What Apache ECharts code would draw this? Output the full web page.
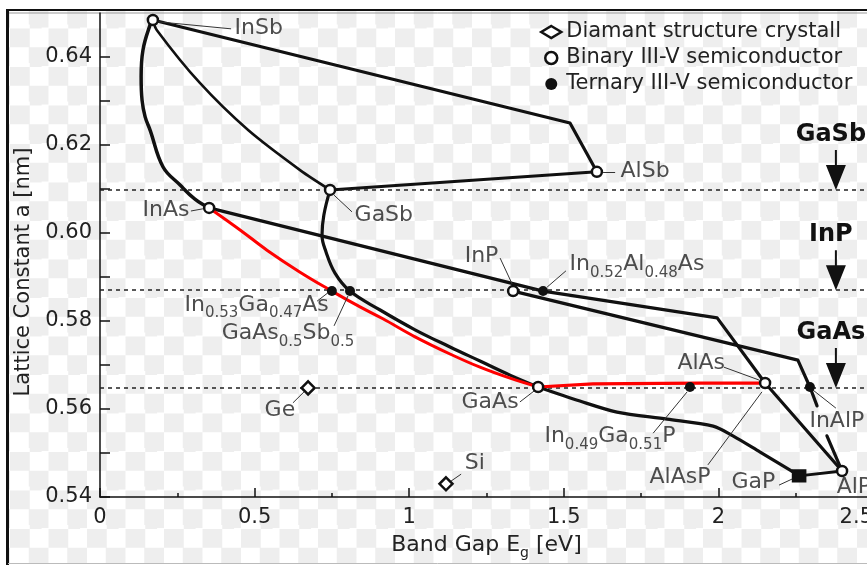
<!DOCTYPE html>
<html>
<head>
<meta charset="utf-8">
<script src="https://cdn.jsdelivr.net/npm/echarts@6/dist/echarts.min.js"></script>
<style>
html,body{margin:0;padding:0;background:#fff;}
#bg{position:absolute;left:8px;top:11px;width:859px;height:552px;
background-image:repeating-conic-gradient(#eeeeee 0 25%, #ffffff 0 50%);
background-size:38.5px 38.5px;background-position:2px -2.25px;}
#chart{position:absolute;left:0;top:0;width:867px;height:565px;}
</style>
</head>
<body>
<div id="bg"></div>
<div id="chart"></div>
<script>
// ---------- data (band gap Eg [eV], lattice constant a [nm]) ----------
const diamondNames = ['Ge', 'Si'];
const diamondEg = [0.673, 1.119];
const diamondA = [0.5648, 0.5430];

const binaryNames = ['InSb', 'AlSb', 'GaSb', 'InAs', 'InP', 'GaAs', 'AlAs', 'AlP', 'GaP'];
const binaryEg = [0.171, 1.607, 0.744, 0.353, 1.336, 1.417, 2.151, 2.400, 2.261];
const binaryA = [0.6484, 0.6139, 0.6098, 0.6057, 0.5868, 0.5650, 0.5659, 0.5459, 0.5448];

const ternaryNames = ['In0.53Ga0.47As', 'GaAs0.5Sb0.5', 'In0.52Al0.48As', 'In0.49Ga0.51P', 'InAlP'];
const ternaryEg = [0.750, 0.8085, 1.433, 1.908, 2.296];
const ternaryA = [0.5868, 0.5868, 0.5868, 0.5650, 0.5650];

// alloy curves
const curveInSbAlSb = [[0.171, 0.6484], [1.520, 0.6250], [1.607, 0.6139]];
const curveGaSbAlSb = [[0.744, 0.6098], [1.607, 0.6139]];
const curveInSbGaSb = [[0.171, 0.6484], [0.184, 0.6461], [0.323, 0.6341], [0.479, 0.6234], [0.647, 0.6143], [0.744, 0.6098]];
const curveInSbInAs = [[0.171, 0.6484], [0.162, 0.6473], [0.139, 0.6416], [0.133, 0.6355], [0.136, 0.6302], [0.146, 0.6264], [0.162, 0.6234], [0.204, 0.6150], [0.259, 0.6109], [0.307, 0.6077], [0.353, 0.6057]];
const curveGaSbGaAs = [[0.744, 0.6098], [0.724, 0.6041], [0.718, 0.5995], [0.731, 0.5957], [0.760, 0.5909], [0.8085, 0.5868], [0.906, 0.5825], [1.019, 0.5780], [1.132, 0.5741], [1.229, 0.5709], [1.326, 0.5677], [1.417, 0.5650]];
const curveInAsGaAs = [[0.353, 0.6057], [0.453, 0.6007], [0.540, 0.5961], [0.647, 0.5911], [0.750, 0.5868], [0.841, 0.5832], [0.915, 0.5805], [1.019, 0.5764], [1.132, 0.5725], [1.229, 0.5695], [1.326, 0.5670], [1.417, 0.5650]];
const curveGaAsAlAs = [[1.417, 0.5650], [1.594, 0.5657], [1.940, 0.5659], [2.151, 0.5659]];
const curveInAsAlAs = [[0.353, 0.6057], [1.433, 0.5868], [1.996, 0.5807], [2.151, 0.5659]];
const curveInPAlP = [[1.336, 0.5868], [2.257, 0.5711], [2.296, 0.5650], [2.319, 0.5607]];
const curveInPAlP2 = [[2.351, 0.5539], [2.400, 0.5459]];
const curveAlAsAlP = [[2.151, 0.5659], [2.400, 0.5459]];
const curveGaAsGaP = [[1.417, 0.5650], [1.552, 0.5618], [1.672, 0.5593], [1.834, 0.5577], [1.983, 0.5561], [2.047, 0.5539], [2.135, 0.5502], [2.232, 0.5461], [2.261, 0.5448]];
const curveGaPAlP = [[2.261, 0.5448], [2.400, 0.5459]];

// reference lattice constants (dashed lines)
const refNames = ['GaSb', 'InP', 'GaAs'];
const refA = [0.6098, 0.5870, 0.5648];
const refEg = 2.38;

// annotation texts ("_" toggles subscript) and anchors
const labelTexts = ['InSb', 'AlSb', 'InAs', 'GaSb', 'In_0.53_Ga_0.47_As', 'GaAs_0.5_Sb_0.5',
  'Ge', 'Si', 'InP', 'In_0.52_Al_0.48_As', 'GaAs', 'AlAs', 'In_0.49_Ga_0.51_P', 'AlAsP', 'InAlP', 'GaP', 'AlP'];
const labelEg = [0.437, 1.685, 0.291, 0.825, 0.275, 0.395, 0.534, 1.181, 1.181, 1.520, 1.171, 1.869, 1.439, 1.779, 2.296, 2.044, 2.384];
const labelA = [0.6464, 0.6139, 0.6050, 0.6039, 0.5834, 0.5770, 0.5595, 0.5475, 0.5945, 0.5927, 0.5614, 0.5702, 0.5536, 0.5443, 0.5570, 0.5432, 0.5420];
const labelRightAligned = ['InAs'];

// leader lines from labels to points
const leaders = [
  [[0.188, 0.6480], [0.424, 0.6464]],
  [[1.627, 0.6139], [1.666, 0.6139]],
  [[0.294, 0.6050], [0.333, 0.6055]],
  [[0.757, 0.6086], [0.815, 0.6048]],
  [[0.702, 0.5845], [0.737, 0.5864]],
  [[0.757, 0.5789], [0.802, 0.5857]],
  [[0.624, 0.5614], [0.660, 0.5639]],
  [[1.135, 0.5436], [1.168, 0.5452]],
  [[1.294, 0.5943], [1.333, 0.5884]],
  [[1.507, 0.5914], [1.446, 0.5877]],
  [[1.358, 0.5616], [1.404, 0.5641]],
  [[2.018, 0.5695], [2.131, 0.5666]],
  [[1.789, 0.5545], [1.899, 0.5639]],
  [[1.966, 0.5473], [2.141, 0.5639]],
  [[2.306, 0.5643], [2.380, 0.5602]],
  [[2.196, 0.5427], [2.245, 0.5443]]
];

// axis ticks
const yTickValues = [0.54, 0.55, 0.56, 0.57, 0.58, 0.59, 0.60, 0.61, 0.62, 0.63, 0.64];
const yLabelValues = [0.54, 0.56, 0.58, 0.60, 0.62, 0.64];

// ---------- chart ----------
const FONT = 'DejaVu Sans';
const INK = '#111';
const TXT = '#222';
const chart = echarts.init(document.getElementById('chart'), null, {renderer: 'canvas'});

function curve(data, color, width, smooth, z) {
  return {type: 'line', data: data, symbol: 'none', smooth: smooth, silent: true,
    lineStyle: {color: color, width: width, join: 'round', cap: 'round'}, z: z};
}
const zip = (xs, ys) => xs.map((x, i) => [x, ys[i]]);
function toRich(t) {
  return t.split('_').map((p, i) => '{' + (i % 2 ? 's' : 'm') + '|' + p + '}').join('');
}

const richStyles = {
  m: {fontSize: 22, lineHeight: 26, fontFamily: FONT, color: TXT},
  s: {fontSize: 15, height: 10, lineHeight: 10, verticalAlign: 'bottom', fontFamily: FONT, color: TXT}
};

const option = {
  animation: false,
  backgroundColor: 'transparent',
  textStyle: {fontFamily: FONT},
  grid: {left: 100, right: -6, top: 13, bottom: 68, outerBoundsMode: 'none', containLabel: false},
  legend: {
    orient: 'vertical', left: 535, top: 16, itemWidth: 20, itemHeight: 12, itemGap: 4,
    selectedMode: false,
    textStyle: {fontSize: 21, color: TXT, fontFamily: FONT, lineHeight: 22},
    data: [
      {name: 'Diamant structure crystall', icon: 'diamond', itemStyle: {color: '#fff', borderColor: INK, borderWidth: 2.5}},
      {name: 'Binary III-V semiconductor', icon: 'circle', itemStyle: {color: '#fff', borderColor: INK, borderWidth: 2.5}},
      {name: 'Ternary III-V semiconductor', icon: 'circle', itemStyle: {color: INK, borderWidth: 0}}
    ]
  },
  xAxis: {
    type: 'value', min: 0, max: 2.5, interval: 0.5,
    axisLine: {show: true, onZero: false, lineStyle: {color: INK, width: 1.5}},
    axisTick: {show: true, inside: true, length: 9, lineStyle: {color: INK, width: 1.5}},
    minorTick: {show: true, splitNumber: 2, length: 4, lineStyle: {color: INK, width: 1.5}},
    splitLine: {show: false},
    axisLabel: {fontSize: 21, color: TXT, fontFamily: FONT, margin: 10, alignMaxLabel: 'right'},
    name: '{m|Band Gap E}{s|g}{m| [eV]}',
    nameLocation: 'middle', nameGap: 35,
    nameTextStyle: {rich: {
      m: {fontSize: 22, lineHeight: 26, fontFamily: FONT, color: TXT},
      s: {fontSize: 14, height: 10, lineHeight: 10, verticalAlign: 'bottom', fontFamily: FONT, color: TXT}
    }}
  },
  yAxis: {
    type: 'value', min: 0.54, max: 0.65,
    axisLine: {show: true, onZero: false, lineStyle: {color: INK, width: 1.5}},
    axisTick: {show: true, inside: true, length: 10, customValues: yTickValues, lineStyle: {color: INK, width: 1.5}},
    splitLine: {show: false},
    axisLabel: {fontSize: 21, color: TXT, fontFamily: FONT, margin: 8, customValues: yLabelValues,
      formatter: v => v.toFixed(2)},
    name: 'Lattice Constant a [nm]',
    nameLocation: 'middle', nameGap: 64,
    nameTextStyle: {fontSize: 21, color: TXT, fontFamily: FONT, padding: [0, 34, 0, 0]}
  },
  graphic: [
    {type: 'line', shape: {x1: 8, y1: 10, x2: 867, y2: 10}, style: {stroke: INK, lineWidth: 2}, silent: true},
    {type: 'line', shape: {x1: 8, y1: 13, x2: 867, y2: 13}, style: {stroke: '#999', lineWidth: 1}, silent: true},
    {type: 'line', shape: {x1: 7.5, y1: 9, x2: 7.5, y2: 565}, style: {stroke: INK, lineWidth: 3}, silent: true},
    {type: 'line', shape: {x1: 8, y1: 563.5, x2: 867, y2: 563.5}, style: {stroke: '#bbb', lineWidth: 1}, silent: true}
  ],
  series: [
    // reference arrows + dashed lines
    {
      type: 'scatter', name: 'ref', silent: true, z: 3,
      data: refNames.map((n, i) => ({name: n, value: [refEg, refA[i]]})),
      symbol: 'path://M9,0L11,0L11,15L20,15L10,40L0,15L9,15Z',
      symbolSize: [20, 40], symbolOffset: [0, -20], symbolKeepAspect: false,
      itemStyle: {color: INK, opacity: 1},
      label: {show: true, position: 'top', distance: 3, offset: [-5, 0], formatter: '{b}',
        fontSize: 24, fontWeight: 'bold', fontFamily: FONT, color: INK},
      markLine: {
        silent: true, symbol: 'none', animation: false, precision: 5,
        label: {show: false},
        lineStyle: {color: '#222', width: 1.5, type: [4, 4]},
        data: refA.map(v => ({yAxis: v}))
      }
    },
    // black curves
    curve(curveInSbAlSb, INK, 3.2, false, 4),
    curve(curveGaSbAlSb, INK, 3, false, 4),
    curve(curveInSbGaSb, INK, 2.6, 0.3, 4),
    curve(curveInSbInAs, INK, 3.5, 0.4, 4),
    curve(curveGaSbGaAs, INK, 3.2, 0.4, 4),
    curve(curveInAsAlAs, INK, 3.2, false, 4),
    curve(curveInPAlP, INK, 3.2, false, 4),
    curve(curveInPAlP2, INK, 3.2, false, 4),
    curve(curveAlAsAlP, INK, 3.2, false, 4),
    curve(curveGaAsGaP, INK, 3.2, 0.3, 4),
    curve(curveGaPAlP, INK, 3, false, 4),
    // red curves
    curve(curveInAsGaAs, '#ff0000', 3, 0.4, 5),
    curve(curveGaAsAlAs, '#ff0000', 3.2, false, 5),
    // leader lines
    {
      type: 'lines', coordinateSystem: 'cartesian2d', silent: true, z: 6,
      lineStyle: {color: '#333', width: 1, opacity: 1},
      data: leaders.map(c => ({coords: c}))
    },
    // markers
    {
      type: 'scatter', name: 'Diamant structure crystall', z: 10, silent: true,
      symbol: 'diamond', symbolSize: 13,
      itemStyle: {color: '#fff', borderColor: INK, borderWidth: 2.5, opacity: 1},
      data: zip(diamondEg, diamondA)
    },
    {
      type: 'scatter', name: 'Binary III-V semiconductor', z: 10, silent: true,
      symbol: 'circle', symbolSize: 10,
      itemStyle: {color: '#fff', borderColor: INK, borderWidth: 2.5, opacity: 1},
      data: binaryNames.map((n, i) => n === 'GaP'
        ? {name: n, value: [binaryEg[i], binaryA[i]], symbol: 'rect', symbolSize: [12, 11], itemStyle: {color: INK}}
        : {name: n, value: [binaryEg[i], binaryA[i]]})
    },
    {
      type: 'scatter', name: 'Ternary III-V semiconductor', z: 10, silent: true,
      symbol: 'circle', symbolSize: 10,
      itemStyle: {color: INK, opacity: 1},
      data: ternaryNames.map((n, i) => ({name: n, value: [ternaryEg[i], ternaryA[i]]}))
    },
    // text annotations
    {
      type: 'scatter', name: 'labels', z: 12, silent: true,
      symbol: 'circle', symbolSize: 1, itemStyle: {color: 'transparent'},
      data: labelTexts.map((t, i) => ({
        value: [labelEg[i], labelA[i]],
        label: {
          show: true, position: [0, 0],
          align: labelRightAligned.indexOf(t) >= 0 ? 'right' : 'left',
          verticalAlign: 'middle',
          formatter: toRich(t),
          rich: richStyles
        }
      }))
    }
  ]
};
chart.setOption(option);
</script>
</body>
</html>
